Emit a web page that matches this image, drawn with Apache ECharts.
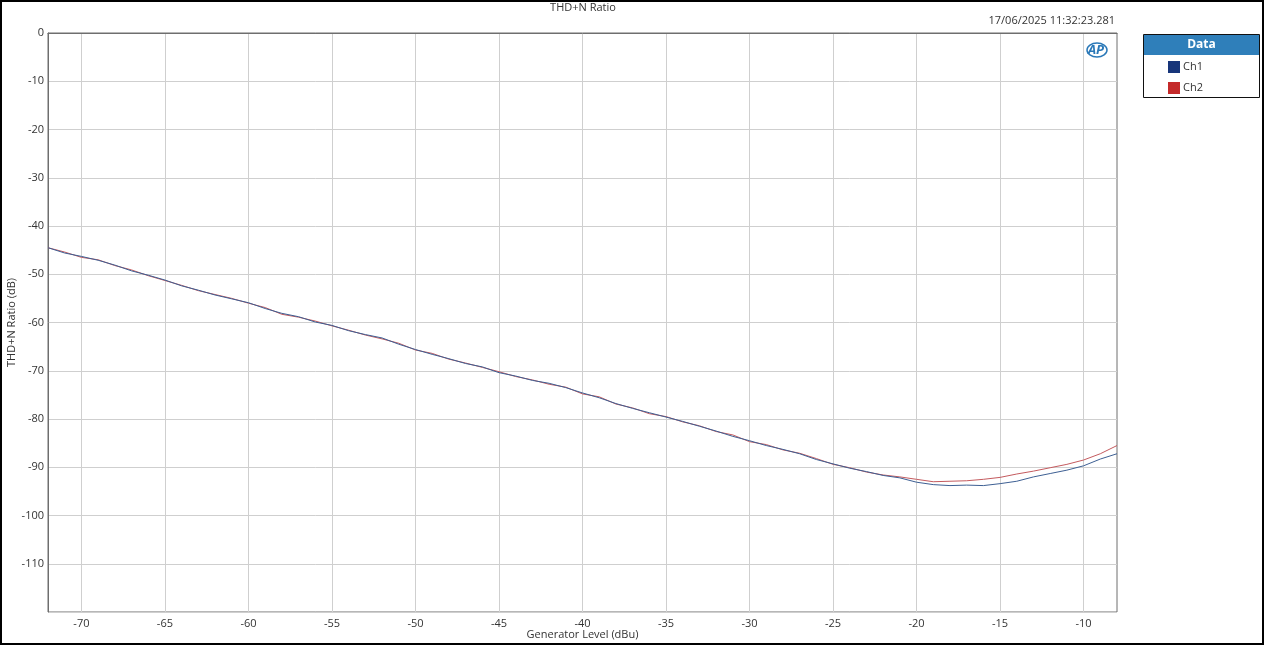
<!DOCTYPE html>
<html>
<head>
<meta charset="utf-8">
<script src="https://cdn.jsdelivr.net/npm/echarts@6/dist/echarts.min.js"></script>
<style>
html,body{margin:0;padding:0;background:#fff;}
#chart{width:1264px;height:645px;}
</style>
</head>
<body>
<div id="chart"></div>
<script>
const generatorLevel = [-72,-71,-70,-69,-68,-67,-66,-65,-64,-63,-62,-61,-60,-59,-58,-57,-56,-55,-54,-53,-52,-51,-50,-49,-48,-47,-46,-45,-44,-43,-42,-41,-40,-39,-38,-37,-36,-35,-34,-33,-32,-31,-30,-29,-28,-27,-26,-25,-24,-23,-22,-21,-20,-19,-18,-17,-16,-15,-14,-13,-12,-11,-10,-9,-8];
const ch1 = [-44.5,-45.6,-46.3,-47.1,-48.1,-49.3,-50.2,-51.2,-52.4,-53.3,-54.3,-55.1,-55.9,-57.1,-58.1,-58.8,-59.9,-60.6,-61.7,-62.5,-63.2,-64.5,-65.6,-66.6,-67.5,-68.5,-69.2,-70.4,-71.1,-72.0,-72.6,-73.5,-74.6,-75.6,-76.8,-77.8,-78.7,-79.6,-80.5,-81.5,-82.5,-83.6,-84.5,-85.5,-86.3,-87.2,-88.4,-89.3,-90.2,-90.9,-91.7,-92.2,-93.1,-93.6,-93.8,-93.7,-93.8,-93.4,-92.9,-92.0,-91.3,-90.6,-89.7,-88.3,-87.2];
const ch2 = [-44.5,-45.4,-46.5,-47.0,-48.2,-49.1,-50.3,-51.3,-52.3,-53.4,-54.2,-55.0,-56.0,-56.9,-58.3,-58.9,-59.7,-60.7,-61.6,-62.6,-63.4,-64.3,-65.7,-66.4,-67.6,-68.4,-69.3,-70.2,-71.2,-71.9,-72.8,-73.4,-74.8,-75.4,-76.9,-77.7,-78.9,-79.5,-80.6,-81.4,-82.6,-83.3,-84.7,-85.3,-86.4,-87.1,-88.2,-89.4,-90.1,-91.0,-91.6,-92.0,-92.5,-93.0,-92.9,-92.8,-92.5,-92.1,-91.4,-90.8,-90.1,-89.4,-88.5,-87.2,-85.5];
const xTicks = [-70,-65,-60,-55,-50,-45,-40,-35,-30,-25,-20,-15,-10];
const seriesNames = ['Ch1','Ch2'];
const seriesColors = ['#17357a','#c42a2a'];
const lineColors = ['#3d5f93','#c45a5e'];

const pair = (ys) => generatorLevel.map((x, i) => [x, ys[i]]);
const font = '"Open Sans", "Noto Sans", sans-serif';

const chart = echarts.init(document.getElementById('chart'), null, {renderer: 'canvas'});
chart.setOption({
  animation: false,
  backgroundColor: '#fff',
  textStyle: {fontFamily: font},
  grid: {
    left: 48, top: 33, right: 147, bottom: 33,
    containLabel: false,
    outerBoundsMode: 'none',
    show: true, borderColor: '#6e6e6e', borderWidth: 1
  },
  legend: {
    orient: 'vertical',
    left: 1163,
    top: 56,
    itemWidth: 12,
    itemHeight: 12,
    itemGap: 9,
    icon: 'rect',
    data: seriesNames.map((n, i) => ({name: n, itemStyle: {color: seriesColors[i]}})),
    textStyle: {fontSize: 11, color: '#333', fontFamily: font, padding: [0,0,0,-2]}
  },
  xAxis: {
    type: 'value',
    min: -72, max: -8,
    name: 'Generator Level (dBu)',
    nameLocation: 'middle',
    nameGap: 17,
    nameMoveOverlap: false,
    nameTextStyle: {fontSize: 11, color: '#333'},
    axisLine: {show: true, lineStyle: {color: '#6e6e6e'}},
    axisTick: {show: false, customValues: xTicks},
    axisLabel: {customValues: xTicks, fontSize: 11, color: '#333', margin: 6},
    splitLine: {show: true, lineStyle: {color: '#cfcfcf', width: 1}}
  },
  yAxis: {
    type: 'value',
    min: -120, max: 0, interval: 10,
    name: 'THD+N Ratio (dB)',
    nameLocation: 'middle',
    nameGap: 31,
    nameRotate: 90,
    nameMoveOverlap: false,
    nameTextStyle: {fontSize: 11, color: '#333'},
    axisLine: {show: true, lineStyle: {color: '#6e6e6e'}},
    axisTick: {show: false},
    axisLabel: {
      fontSize: 11, color: '#333', margin: 4,
      formatter: (v) => v === -120 ? '' : String(v)
    },
    splitLine: {show: true, lineStyle: {color: '#cfcfcf', width: 1}}
  },
  series: seriesNames.map((n, i) => ({
    name: n,
    type: 'line',
    data: pair(i === 0 ? ch1 : ch2),
    showSymbol: false,
    symbol: 'none',
    itemStyle: {color: seriesColors[i]},
    lineStyle: {color: lineColors[i], width: 1},
    z: 3 - i
  })),
  graphic: [
    {type: 'rect', shape: {x: 1, y: 1, width: 1262, height: 643}, style: {fill: 'none', stroke: '#000', lineWidth: 2}, silent: true, z: 100},
    {type: 'text', x: 583, y: 2, style: {text: 'THD+N Ratio', fill: '#333', font: '11px ' + font, textAlign: 'center', textVerticalAlign: 'top'}},
    {type: 'text', x: 1115, y: 15, style: {text: '17/06/2025 11:32:23.281', fill: '#333', font: '11px ' + font, textAlign: 'right', textVerticalAlign: 'top'}},
    {type: 'rect', shape: {x: 1143.5, y: 34.5, width: 116, height: 63}, style: {fill: '#fff', stroke: '#111', lineWidth: 1}, z: -1},
    {type: 'rect', shape: {x: 1144, y: 35, width: 115, height: 20}, style: {fill: '#2f7fba'}},
    {type: 'text', x: 1201.5, y: 45, style: {text: 'Data', fill: '#fff', font: 'bold 12px ' + font, textAlign: 'center', textVerticalAlign: 'middle'}},
    {type: 'text', x: 1096, y: 50, style: {text: 'AP', fill: '#2b79b8', font: 'italic bold 13px ' + font, textAlign: 'center', textVerticalAlign: 'middle'}},
    {type: 'ellipse', shape: {cx: 1097, cy: 50, rx: 10, ry: 7}, style: {fill: 'none', stroke: '#2b79b8', lineWidth: 1.5}}
  ]
});
</script>
</body>
</html>
